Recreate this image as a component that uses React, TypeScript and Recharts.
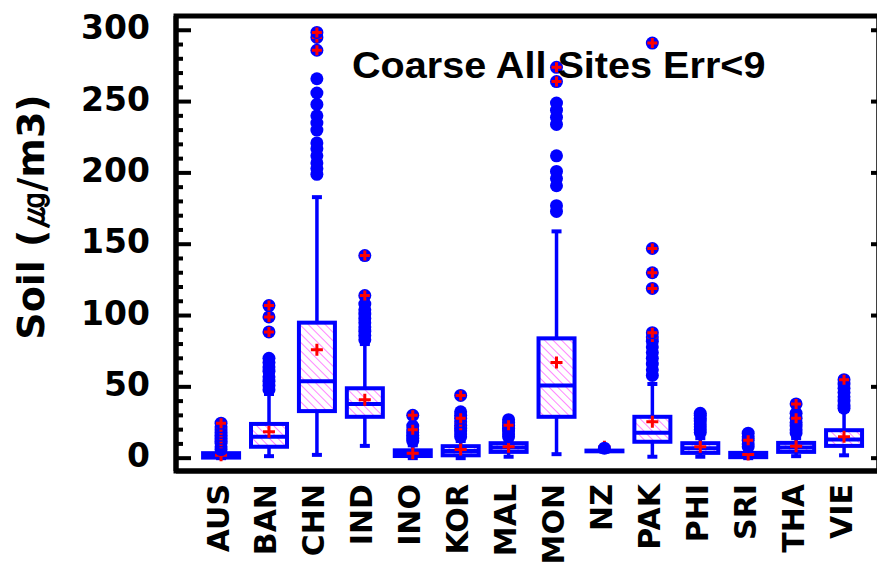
import React from "react"
import { ComposedChart, Bar, Scatter, XAxis, YAxis, ReferenceArea } from "recharts"

const categories = ["AUS", "BAN", "CHN", "IND", "INO", "KOR", "MAL", "MON", "NZ", "PAK", "PHI", "SRI", "THA", "VIE"]

const whiskerLow = [0, 1.4, 2.3, 8.6, 0, 0, 1, 2.8, 4.5, 1, 1, 0, 1.4, 2]
const q1 = [0.4, 8, 33, 29, 1.5, 2, 4.4, 29, 4.8, 11.5, 3.7, 0.7, 4.4, 8.6]
const median = [1.5, 15, 54, 38, 3.5, 5, 7.5, 51, 5, 17.8, 7, 2, 7.5, 13]
const q3 = [3.5, 24, 95, 49, 5.5, 8.4, 10.5, 84, 5.3, 29, 10.5, 3.7, 10.7, 19.6]
const whiskerHigh = [6, 45, 183, 80, 9, 12, 13, 159, 5.6, 52, 14, 6, 14, 33]
const means = [2, 18.5, 76, 41, 3.5, 6, 8, 67, 8, 25.5, 8, 2.5, 8.4, 15]

// outliers (blue dots) and far outliers (blue dot with red cross)
const outliers = [
  [6, 8],
  [48, 51, 54, 57, 61, 64, 67, 70],
  [199, 203, 207, 212, 217, 221, 230, 235, 240, 248, 256, 266],
  [83, 86, 89, 92, 95, 98, 101, 104, 108],
  [12, 14, 16, 18, 22.5],
  [15, 17, 19, 21, 30, 32.5],
  [15, 17, 19, 21, 25, 27],
  [173, 177, 191, 196, 201, 212, 234, 239, 244, 249],
  [7],
  [58, 62, 66, 70, 74, 78, 82],
  [18, 20, 22, 24, 26, 28, 30, 31.5],
  [8, 10, 15, 17.5],
  [17.7, 20, 22.5, 25, 31.5],
  [35, 37, 40, 43, 46, 49, 52],
]
const farOutliers = [
  [10.5, 12, 14, 16, 18, 20, 22, 24.5],
  [88.5, 99, 107],
  [286, 295, 298.5],
  [114, 142],
  [20, 30],
  [23, 25.5, 28, 44],
  [23],
  [264, 274],
  [],
  [85, 88, 119, 130, 147, 291],
  [],
  [12.6],
  [28, 38],
  [55],
]

const yTicks = [0, 10, 20, 30, 40, 50, 60, 70, 80, 90, 100, 110, 120, 130, 140, 150, 160, 170, 180, 190, 200, 210, 220, 230, 240, 250, 260, 270, 280, 290, 300]
const yMajor = [0, 50, 100, 150, 200, 250, 300]
const yDomain = [-9, 310]
const xDomain = [-0.94, 13.73]

const BLUE = "#0000ff"
const RED = "#ff0000"
const BOLD = "'DejaVu Sans', sans-serif"
const LEFT_X = 176
const RIGHT_X = 879
const frame = { stroke: "#000", strokeWidth: 5 }

const idx = categories.map((_, i) => i)
const boxRows = categories.map((c, i) => ({
  idx: i,
  cat: c,
  range: [whiskerLow[i], whiskerHigh[i]],
  lo: whiskerLow[i],
  hi: whiskerHigh[i],
  q1: q1[i],
  med: median[i],
  q3: q3[i],
}))
const meanRows = categories.map((c, i) => ({ idx: i, v: means[i] }))
const outRows = categories.flatMap((c, i) => outliers[i].map((v) => ({ idx: i, v })))
const farRows = categories.flatMap((c, i) => farOutliers[i].map((v) => ({ idx: i, v })))

const BoxShape = (props: any) => {
  const { x, y, width, height, payload } = props
  if (x == null || y == null || !payload) return null
  const top = Math.min(y, y + height)
  const bot = Math.max(y, y + height)
  const span = payload.hi - payload.lo
  const py = (v: number) => (span === 0 ? top : top + ((payload.hi - v) / span) * (bot - top))
  const cx = x + width / 2
  const yq3 = py(payload.q3)
  const yq1 = py(payload.q1)
  const ym = py(payload.med)
  return (
    <g>
      <line x1={cx} x2={cx} y1={top} y2={yq3} stroke={BLUE} strokeWidth={3.5} />
      <line x1={cx} x2={cx} y1={yq1} y2={bot} stroke={BLUE} strokeWidth={3.5} />
      <line x1={cx - 5} x2={cx + 5} y1={top} y2={top} stroke={BLUE} strokeWidth={4} />
      <line x1={cx - 5} x2={cx + 5} y1={bot} y2={bot} stroke={BLUE} strokeWidth={4} />
      <rect x={x} y={yq3} width={width} height={Math.max(yq1 - yq3, 0.5)} fill="url(#hatch)" stroke={BLUE} strokeWidth={4} />
      <line x1={x} x2={x + width} y1={ym} y2={ym} stroke={BLUE} strokeWidth={4} />
    </g>
  )
}

const Dot = (p: any) => <circle cx={p.cx} cy={p.cy} r={6.5} fill={BLUE} />

const FarDot = (p: any) => (
  <g>
    <circle cx={p.cx} cy={p.cy} r={6.5} fill={BLUE} />
    <path d={`M${p.cx - 5},${p.cy}H${p.cx + 5}M${p.cx},${p.cy - 5}V${p.cy + 5}`} stroke={RED} strokeWidth={3} />
  </g>
)

const MeanPlus = (p: any) => (
  <path d={`M${p.cx - 6},${p.cy}H${p.cx + 6}M${p.cx},${p.cy - 6}V${p.cy + 6}`} stroke={RED} strokeWidth={3} />
)

const LeftTick = (props: any) => {
  const { y, payload } = props
  const major = payload.value % 50 === 0
  return (
    <g>
      <line x1={LEFT_X} x2={LEFT_X + (major ? 15 : 7)} y1={y} y2={y} stroke="#000" strokeWidth={4} />
      {major && (
        <text x={LEFT_X - 26} y={y + 9} textAnchor="end" fontFamily={BOLD} fontWeight="bold" fontSize={33} fill="#000">
          {payload.value}
        </text>
      )}
    </g>
  )
}

const RightTick = (props: any) => {
  const { y } = props
  return <line x1={RIGHT_X} x2={RIGHT_X - 8} y1={y} y2={y} stroke="#000" strokeWidth={4} />
}

const CatTick = (props: any) => {
  const { x, payload } = props
  const tx = x - 3
  const ty = 484
  return (
    <text x={tx} y={ty} transform={`rotate(-90, ${tx}, ${ty})`} textAnchor="end" dominantBaseline="central" fontFamily={BOLD} fontWeight="bold" fontSize={30} fill="#000">
      {categories[payload.value]}
    </text>
  )
}

const AxisTitle = (props: any) => {
  const vb = props.viewBox || { x: 0, y: 16, width: 176, height: 455 }
  const tx = 44
  const ty = vb.y + 201
  return (
    <text x={tx} y={ty} transform={`rotate(-90, ${tx}, ${ty})`} textAnchor="middle" fontFamily={BOLD} fontWeight="bold" fontSize={38} fill="#000">
      Soil (㎍/m3)
    </text>
  )
}

export default function App() {
  return (
    <div style={{ position: "absolute", left: 0, top: 0, width: 877, height: 566, overflow: "hidden", background: "#fff" }}>
      <ComposedChart width={882} height={566} data={boxRows} margin={{ top: 16, right: 2, bottom: 5, left: 0 }}>
        <defs>
          <pattern id="hatch" width="6" height="6" patternUnits="userSpaceOnUse" patternTransform="rotate(-45)">
            <line x1="0" y1="0" x2="0" y2="6" stroke="#ff33ff" strokeWidth={1.2} />
          </pattern>
        </defs>
        <XAxis
          dataKey="idx"
          type="number"
          domain={xDomain}
          allowDataOverflow
          ticks={idx}
          interval={0}
          height={90}
          tickLine={false}
          axisLine={frame}
          tick={<CatTick />}
        />
        <YAxis
          yAxisId="l"
          type="number"
          domain={yDomain}
          allowDataOverflow
          ticks={yTicks}
          interval={0}
          width={176}
          tickLine={false}
          axisLine={frame}
          tick={<LeftTick />}
          label={<AxisTitle />}
        />
        <YAxis
          yAxisId="r"
          orientation="right"
          type="number"
          domain={yDomain}
          allowDataOverflow
          ticks={yMajor}
          interval={0}
          width={1}
          tickLine={false}
          axisLine={frame}
          tick={<RightTick />}
        />
        <ReferenceArea yAxisId="l" y1={yDomain[0]} y2={yDomain[1]} fill="none" stroke="#000" strokeWidth={5} ifOverflow="visible" />
        <Scatter yAxisId="r" data={meanRows} dataKey="v" shape={<MeanPlus />} isAnimationActive={false} />
        <Bar yAxisId="l" dataKey="range" barSize={36} shape={<BoxShape />} isAnimationActive={false} />
        <Scatter yAxisId="l" data={outRows} dataKey="v" shape={<Dot />} isAnimationActive={false} />
        <Scatter yAxisId="l" data={farRows} dataKey="v" shape={<FarDot />} isAnimationActive={false} />
      </ComposedChart>
      <div
        style={{
          position: "absolute",
          left: 352,
          top: 48,
          fontFamily: "'Liberation Sans', Arial, sans-serif",
          fontWeight: "bold",
          fontSize: 36,
          lineHeight: 1,
          whiteSpace: "nowrap",
          transform: "scaleX(1.1)",
          transformOrigin: "left top",
          color: "#000",
        }}
      >
        Coarse All Sites Err&lt;9
      </div>
    </div>
  )
}
